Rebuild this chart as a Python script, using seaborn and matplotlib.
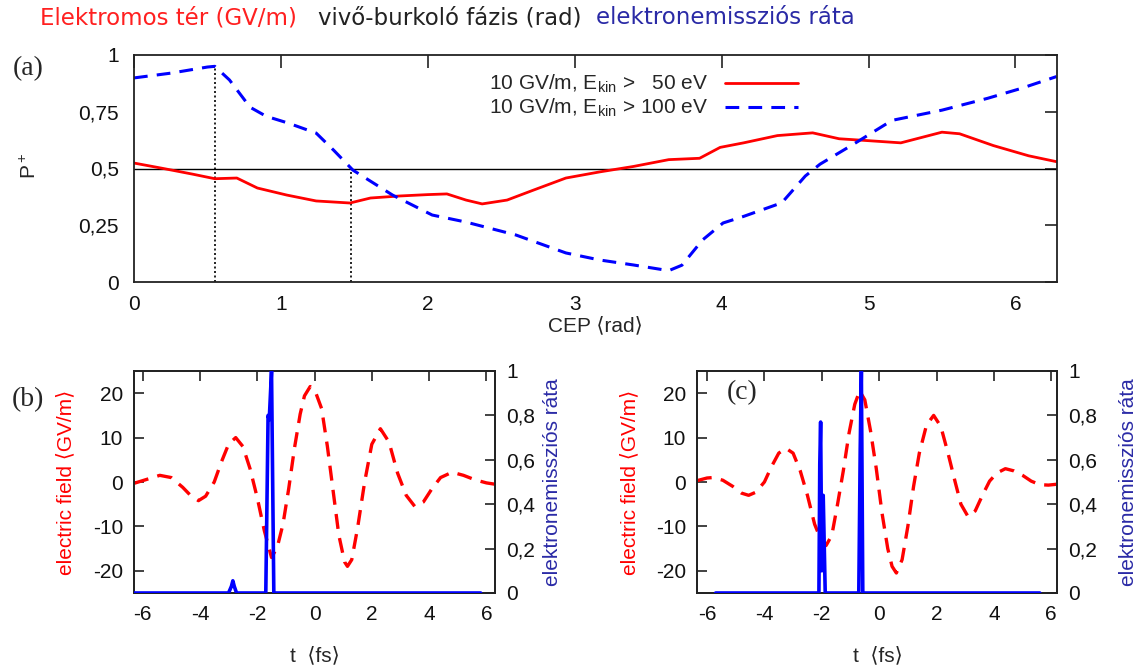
import numpy as np
import pandas as pd
import matplotlib
matplotlib.use("Agg")
import matplotlib.pyplot as plt
import seaborn as sns

# ---------------- data ----------------
# panel (a): P+ vs CEP
cep_50 = [0, 0.2, 0.4, 0.55, 0.70, 0.84, 1.04, 1.24, 1.47, 1.61, 1.81, 2.0, 2.13, 2.26,
          2.37, 2.54, 2.72, 2.94, 3.17, 3.40, 3.64, 3.85, 3.99, 4.15, 4.38, 4.62, 4.80,
          4.99, 5.22, 5.50, 5.62, 5.85, 6.09, 6.28]
p_50 = [0.524, 0.50, 0.475, 0.455, 0.458, 0.414, 0.383, 0.357, 0.348, 0.37, 0.379, 0.385,
        0.388, 0.361, 0.344, 0.361, 0.405, 0.458, 0.485, 0.509, 0.539, 0.545, 0.593, 0.613,
        0.645, 0.657, 0.631, 0.623, 0.613, 0.66, 0.653, 0.601, 0.556, 0.53]
cep_100 = [0, 0.25, 0.50, 0.55, 0.65, 0.79, 0.90, 1.05, 1.24, 1.36, 1.49, 1.62, 1.76, 2.03,
           2.26, 2.60, 2.94, 3.17, 3.40, 3.64, 3.73, 3.87, 4.01, 4.15, 4.41, 4.57, 4.67,
           4.90, 5.16, 5.50, 5.81, 6.04, 6.28]
p_100 = [0.899, 0.92, 0.947, 0.95, 0.89, 0.77, 0.73, 0.70, 0.656, 0.58, 0.493, 0.44, 0.383,
         0.295, 0.264, 0.207, 0.128, 0.097, 0.075, 0.05, 0.074, 0.185, 0.26, 0.289, 0.349,
         0.467, 0.519, 0.608, 0.712, 0.757, 0.809, 0.853, 0.905]
marker_cep = [0.55, 1.48]
marker_top = [0.95, 0.5]
label_50 = "10 GV/m, $\\mathrm{E_{kin}}$ >   50 eV"
label_100 = "10 GV/m, $\\mathrm{E_{kin}}$ > 100 eV"
cep_ticks = [0, 1, 2, 3, 4, 5, 6]
p_ticks = [0, 0.25, 0.5, 0.75, 1]
p_ticklabels = ["0", "0,25", "0,5", "0,75", "1"]

# panel (b)
t_field_b = [-6.3, -5.9, -5.4, -5.0, -4.6, -4.3, -4.05, -3.8, -3.5, -3.25, -3.0, -2.75, -2.5,
             -2.25, -2.0, -1.75, -1.5, -1.3, -1.1, -0.9, -0.7, -0.5, -0.35, -0.15, 0.05,
             0.25, 0.45, 0.65, 0.85, 1.05, 1.15, 1.3, 1.5, 1.75, 2.0, 2.3, 2.6, 2.9, 3.2,
             3.5, 3.8, 4.1, 4.4, 4.8, 5.2, 5.6, 6.0, 6.3]
field_b = [-0.3, 0.5, 1.5, 1.0, -1.2, -3.2, -4.2, -3.2, 0.0, 4.5, 8.5, 10.0, 8.0, 3.0, -3.5,
           -11.0, -17.0, -14.7, -9.5, -1.5, 7.6, 15.3, 19.4, 21.5, 20.0, 16.5, 8.0, -2.0,
           -12.0, -18.0, -19.0, -17.5, -10.5, 0.0, 8.5, 12.0, 9.0, 2.0, -3.0, -5.5, -4.5,
           -1.5, 1.0, 2.2, 1.5, 0.5, -0.2, -0.5]
t_rate_b = [-6.3, -3.0, -2.9, -2.85, -2.8, -2.72, -1.7, -1.62, -1.58, -1.5, -1.42, 5.8]
rate_b = [0, 0, 0.03, 0.055, 0.03, 0, 0, 0.8, 0.78, 1.0, 0, 0]

# panel (c)
t_field_c = [-6.35, -6.0, -5.8, -5.45, -5.1, -4.8, -4.55, -4.3, -4.0, -3.75, -3.5, -3.25,
             -3.0, -2.75, -2.5, -2.25, -2.0, -1.85, -1.65, -1.45, -1.25, -1.05, -0.85,
             -0.68, -0.5, -0.3, -0.1, 0.1, 0.3, 0.45, 0.6, 0.8, 1.0, 1.2, 1.4, 1.65, 1.9,
             2.15, 2.4, 2.65, 2.85, 3.1, 3.35, 3.6, 3.85, 4.1, 4.4, 4.7, 5.0, 5.3, 5.6,
             5.9, 6.2]
field_c = [0.3, 0.9, 1.0, 0.4, -1.0, -2.5, -3.0, -2.3, 0.0, 3.5, 6.5, 7.6, 6.5, 2.5, -3.0,
           -9.5, -13.5, -14.3, -12.0, -5.0, 2.5, 11.0, 17.5, 20.5, 18.5, 11.5, 3.0, -7.0,
           -15.0, -19.0, -20.5, -17.5, -10.0, -1.0, 6.5, 12.8, 15.0, 12.5, 6.5, 0.0, -5.0,
           -7.8, -6.5, -3.0, 0.2, 2.0, 3.0, 2.5, 1.5, 0.2, -0.6, -0.7, -0.5]
t_rate_c = [-5.7, -2.1, -2.07, -2.04, -2.0, -1.95, -1.88, -0.71, -0.66, -0.62, -0.57, 5.6]
rate_c = [0, 0, 0.58, 0.77, 0.1, 0.44, 0, 0, 0.65, 1.0, 0, 0]

t_ticks = [-6, -4, -2, 0, 2, 4, 6]
e_ticks = [-20, -10, 0, 10, 20]
r_ticks = [0, 0.2, 0.4, 0.6, 0.8, 1]
r_ticklabels = ["0", "0,2", "0,4", "0,6", "0,8", "1"]

# ---------------- style ----------------
sns.set_style("white")
plt.rcParams["font.family"] = ["Liberation Sans", "DejaVu Sans"]
plt.rcParams["axes.unicode_minus"] = False
plt.rcParams["mathtext.fontset"] = "custom"
plt.rcParams["mathtext.rm"] = "Liberation Sans"
plt.rcParams["mathtext.it"] = "Liberation Sans:italic"

RED = "#ff0000"
BLUE = "#0000ff"
NAVY = "#2a2aa6"
FS = 15
W, H = 1139, 670

fig = plt.figure(figsize=(W / 100, H / 100), dpi=100)


def frac(x0, y0, x1, y1):
    return [x0 / W, 1 - y1 / H, (x1 - x0) / W, (y1 - y0) / H]


def style_axis(ax):
    for s in ax.spines.values():
        s.set_color("#222222")
        s.set_linewidth(1.3)
    ax.tick_params(direction="in", length=7, width=1.2, labelsize=FS, colors="#222222",
                   labelcolor="#111111", pad=6)


# ---------------- panel (a) ----------------
axa = fig.add_axes(frac(134, 55, 1057, 282))
df50 = pd.DataFrame({"cep": cep_50, "p": p_50})
df100 = pd.DataFrame({"cep": cep_100, "p": p_100})
axa.axhline(0.5, color="black", lw=1.0, zorder=1)
for xc, yt in zip(marker_cep, marker_top):
    axa.plot([xc, xc], [0, yt], color="black", lw=1.2, linestyle=(0, (1.2, 1.5)), zorder=1)
sns.lineplot(data=df50, x="cep", y="p", ax=axa, color=RED, lw=2.0, label=label_50)
sns.lineplot(data=df100, x="cep", y="p", ax=axa, color=BLUE, lw=2.2,
             linestyle=(0, (4.5, 3)), label=label_100)
axa.set_xlim(0, 2 * np.pi)
axa.set_ylim(0, 1)
axa.set_xticks(cep_ticks)
axa.set_yticks(p_ticks)
axa.set_yticklabels(p_ticklabels)
axa.set_xlabel("")
axa.set_ylabel("")
style_axis(axa)
axa.tick_params(top=True, right=True, length=9)
axa.tick_params(axis="y", pad=11)
axa.tick_params(axis="x", pad=9)
leg = axa.legend(loc="upper right", bbox_to_anchor=((798 - 134) / 923, 1 - (73 - 55) / 227),
                 frameon=False, markerfirst=False, fontsize=FS, handlelength=3.5,
                 handletextpad=0.8, labelspacing=0.08, borderpad=0, borderaxespad=0)

fig.text(595 / W, 1 - 326 / H, "CEP ⟨rad⟩", ha="center", va="center", fontsize=FS)
fig.text(30 / W, 1 - 166 / H, "P$^+$", ha="center", va="center", fontsize=FS, rotation=90)
fig.text(28 / W, 1 - 69 / H, "(a)", ha="center", va="center", fontsize=20,
         family=["Liberation Serif", "DejaVu Serif"])

# header texts
fig.text(40 / W, 1 - 18 / H, "Elektromos tér (GV/m)", ha="left", va="center", fontsize=16.5,
         color="#ff2020", family=["DejaVu Sans"])
fig.text(318 / W, 1 - 18 / H, "vivő-burkoló fázis (rad)", ha="left", va="center",
         fontsize=16.5, color="#222222", family=["DejaVu Sans"])
fig.text(596 / W, 1 - 18 / H, "elektronemissziós ráta", ha="left", va="center",
         fontsize=16.5, color=NAVY, family=["DejaVu Sans"])


# ---------------- panels (b), (c) ----------------
def field_panel(box, t_f, e_f, t_r, r_r, xlim, xl_x, yl_x, yr_x):
    ax = fig.add_axes(frac(*box))
    axr = ax.twinx()
    dff = pd.DataFrame({"t": t_f, "E": e_f})
    dfr = pd.DataFrame({"t": t_r, "r": r_r})
    sns.lineplot(data=dff, x="t", y="E", ax=ax, color=RED, lw=2.4,
                 linestyle=(0, (4.5, 2.8)), zorder=2)
    sns.lineplot(data=dfr, x="t", y="r", ax=axr, color=BLUE, lw=2.6, zorder=3)
    ax.set_xlim(*xlim)
    ax.set_ylim(-25, 25)
    axr.set_ylim(0, 1)
    ax.set_xticks(t_ticks)
    ax.set_yticks(e_ticks)
    axr.set_yticks(r_ticks)
    axr.set_yticklabels(r_ticklabels)
    for a in (ax, axr):
        a.set_xlabel("")
        a.set_ylabel("")
        style_axis(a)
    ax.tick_params(top=True, length=7)
    ax.tick_params(axis="x", pad=9)
    ax.tick_params(axis="y", pad=8)
    axr.tick_params(length=7, pad=8)
    fig.text(xl_x / W, 1 - 656 / H, "t  ⟨fs⟩", ha="center", va="center", fontsize=FS)
    fig.text(yl_x / W, 1 - 482 / H, "electric field ⟨GV/m⟩", ha="center", va="center",
             fontsize=FS, rotation=90, color=RED)
    fig.text(yr_x / W, 1 - 482 / H, "elektronemissziós ráta", ha="center", va="center",
             fontsize=FS, rotation=90, color=NAVY)
    return ax


axb = field_panel((134, 371, 495, 593), t_field_b, field_b, t_rate_b, rate_b,
                  (-6.3, 6.3), 315, 66, 553)
axc = field_panel((697, 371, 1057, 593), t_field_c, field_c, t_rate_c, rate_c,
                  (-6.35, 6.2), 878, 630, 1129)
fig.text(28 / W, 1 - 400 / H, "(b)", ha="center", va="center", fontsize=20,
         family=["Liberation Serif", "DejaVu Serif"])
fig.text(742 / W, 1 - 393 / H, "(c)", ha="center", va="center", fontsize=20,
         family=["Liberation Serif", "DejaVu Serif"])

fig.savefig("out.png", dpi=100)
